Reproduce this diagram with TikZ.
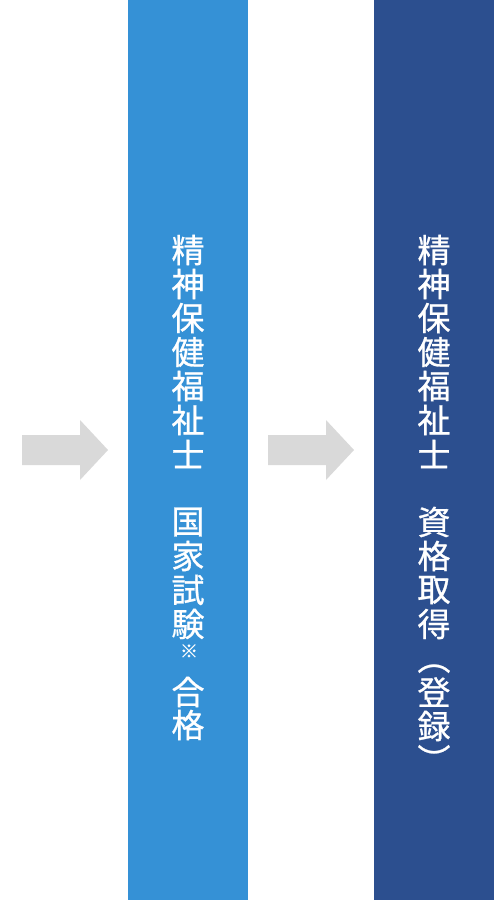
\documentclass[tikz,border=0pt]{standalone}
\usepackage{fontspec}
\newfontfamily\jpfont{Noto Sans CJK JP}[FakeBold=0.8]
\definecolor{barlight}{RGB}{53,145,214}
\definecolor{bardark}{RGB}{44,79,143}
\definecolor{arrowgray}{RGB}{217,217,217}
\begin{document}
\begin{tikzpicture}[x=1pt,y=-1pt,
  bar/.style={inner sep=0,minimum width=120pt,minimum height=900pt,anchor=north west},
  flowarrow/.style={fill=arrowgray},
  ch/.style={text=white,inner sep=0,font=\jpfont\fontsize{33}{33}\selectfont},
  smallch/.style={text=white,inner sep=0,font=\jpfont\fontsize{18}{18}\selectfont}]
\useasboundingbox (0,0) rectangle (494,900);
\fill[white] (0,0) rectangle (494,900);
\node[bar,fill=barlight] (exam) at (128,0) {};
\node[bar,fill=bardark] (reg) at (374,0) {};
% arrows
\fill[flowarrow] (22,435) -- (80,435) -- (80,420) -- (108,450) -- (80,480) -- (80,465) -- (22,465) -- cycle;
\fill[flowarrow] (268,435) -- (326,435) -- (326,420) -- (354,450) -- (326,480) -- (326,465) -- (268,465) -- cycle;
% left column text
\foreach \c/\y [count=\i] in {精/250,神/284,保/318,健/352,福/386,祉/420,士/454,国/522,家/556,試/590,験/624,合/692,格/725}
  \node[ch] (l\i) at (188,\y) {\c};
\node[smallch] (lnote) at (189,651) {※};
% right column text
\foreach \c/\y [count=\i] in {精/250,神/284,保/318,健/352,福/386,祉/420,士/454,資/522,格/556,取/590,得/624,登/692,録/726}
  \node[ch] (r\i) at (434,\y) {\c};
\node[ch,rotate=-90] (ropen) at (434,658) {（};
\node[ch,rotate=-90] (rclose) at (434,760) {）};
\end{tikzpicture}
\end{document}
